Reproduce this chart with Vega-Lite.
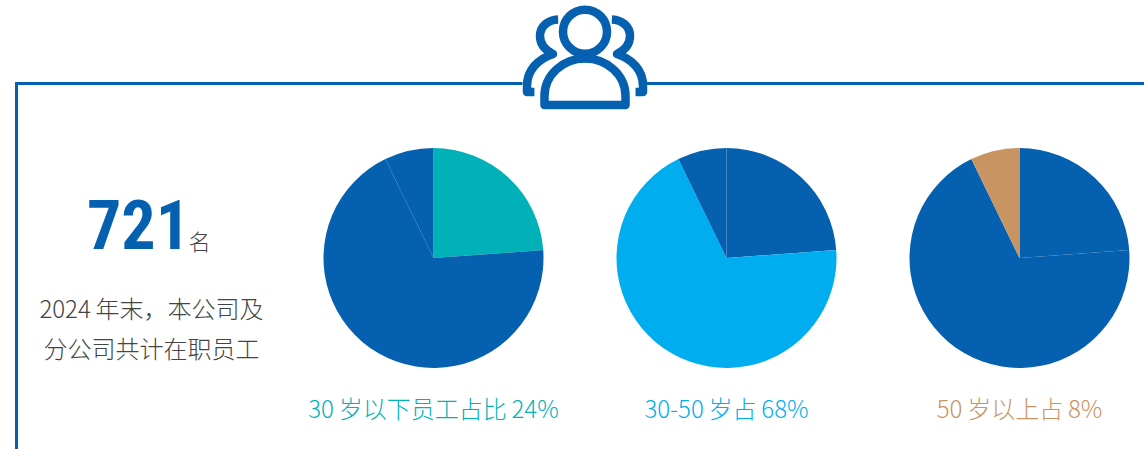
{
"$schema":"https://vega.github.io/schema/vega-lite/v6.json",
"width":1144,"height":449,"padding":0,"autosize":{"type":"none"},
"background":"white",
"config":{"view":{"stroke":null},"text":{"font":"Noto Sans CJK SC"}},
"layer":[
{"data":{"values":[{"part":"frame"}]},"mark":{"type":"rule","stroke":"#0560AF","strokeWidth":3},"encoding":{"x":{"value":15},"x2":{"value":522.5},"y":{"value":83.5}}},
{"data":{"values":[{"part":"frame"}]},"mark":{"type":"rule","stroke":"#0560AF","strokeWidth":3},"encoding":{"x":{"value":647},"x2":{"value":1144},"y":{"value":83.5}}},
{"data":{"values":[{"part":"frame"}]},"mark":{"type":"rule","stroke":"#0560AF","strokeWidth":3},"encoding":{"x":{"value":16.5},"y":{"value":82},"y2":{"value":449}}},
{"data":{"values":[{"part":"icon"}]},"mark":{"type":"point","filled":false,"opacity":1,"stroke":"#0560AF","strokeWidth":8.5,"strokeCap":"butt","strokeJoin":"round","size":16384,
"shape":"M -0.344 -0.411 A 0.344 0.344 0 1 1 0.344 -0.411 A 0.344 0.344 0 1 1 -0.344 -0.411 Z M -0.633 0.734 L 0.633 0.734 L 0.633 0.594 A 0.633 0.586 0 0 0 -0.633 0.594 Z M -0.42 -0.602 C -0.578 -0.594 -0.703 -0.5 -0.703 -0.344 C -0.703 -0.219 -0.625 -0.125 -0.5 -0.0625 C -0.734 0.016 -0.906 0.188 -0.906 0.4375 L -0.906 0.531 L -0.79 0.531 M 0.42 -0.602 C 0.578 -0.594 0.703 -0.5 0.703 -0.344 C 0.703 -0.219 0.625 -0.125 0.5 -0.0625 C 0.734 0.016 0.906 0.188 0.906 0.4375 L 0.906 0.531 L 0.79 0.531"},
"encoding":{"x":{"value":585},"y":{"value":58}}},
{"data":{"values":[
{"pie":"30岁以下","segment":"30岁以下","tone":"30岁以下","count":172},
{"pie":"30岁以下","segment":"30-50岁","tone":"其他","count":497},
{"pie":"30岁以下","segment":"50岁以上","tone":"其他","count":52},
{"pie":"30-50岁","segment":"30岁以下","tone":"其他","count":172},
{"pie":"30-50岁","segment":"30-50岁","tone":"30-50岁","count":497},
{"pie":"30-50岁","segment":"50岁以上","tone":"其他","count":52},
{"pie":"50岁以上","segment":"30岁以下","tone":"其他","count":172},
{"pie":"50岁以上","segment":"30-50岁","tone":"其他","count":497},
{"pie":"50岁以上","segment":"50岁以上","tone":"50岁以上","count":52}
]},
"transform":[{"stack":"count","groupby":["pie"],"as":["t0","t1"]}],
"mark":{"type":"arc","outerRadius":110},
"encoding":{
"x":{"field":"pie","type":"nominal","axis":null,"scale":{"type":"point","padding":0,"domain":["总数","30岁以下","30-50岁","50岁以上"],"range":[140.5,1019.5]}},
"y":{"value":258},
"theta":{"field":"t0","type":"quantitative","scale":{"domain":[0,721],"range":[0,6.2832]}},
"theta2":{"field":"t1"},
"color":{"field":"tone","type":"nominal","legend":null,"scale":{"domain":["30岁以下","30-50岁","50岁以上","其他"],"range":["#00B2B8","#00AEEF","#C79462","#0560AF"]}}
}},
{"data":{"values":[
{"pie":"30岁以下","tone":"30岁以下","label":"30\u2009岁以下员工占比\u200924%"},
{"pie":"30-50岁","tone":"30-50岁","label":"30-50\u2009岁占\u200968%"},
{"pie":"50岁以上","tone":"50岁以上","label":"50\u2009岁以上占\u20098%"}
]},
"mark":{"type":"text","fontSize":24,"fontWeight":300,"align":"center","baseline":"alphabetic"},
"encoding":{"x":{"field":"pie","type":"nominal"},"y":{"value":418},"text":{"field":"label"},"color":{"field":"tone","type":"nominal"}}},
{"data":{"values":[{"pie":"总数","value":"721"}]},
"mark":{"type":"text","font":"Roboto Condensed, Liberation Sans","fontSize":68,"fontWeight":"bold","align":"center","baseline":"alphabetic","color":"#0560AF","dx":-2},
"encoding":{"x":{"field":"pie","type":"nominal"},"y":{"value":249},"text":{"field":"value"}}},
{"data":{"values":[{"pie":"总数","unit":"名"}]},
"mark":{"type":"text","fontSize":22,"fontWeight":300,"align":"center","baseline":"alphabetic","color":"#444444","dx":59},
"encoding":{"x":{"field":"pie","type":"nominal"},"y":{"value":250},"text":{"field":"unit"}}},
{"data":{"values":[{"pie":"总数","line":"2024\u2009年末，本公司及"}]},
"mark":{"type":"text","fontSize":24,"fontWeight":300,"align":"center","baseline":"alphabetic","color":"#444444","dx":11},
"encoding":{"x":{"field":"pie","type":"nominal"},"y":{"value":318},"text":{"field":"line"}}},
{"data":{"values":[{"pie":"总数","line":"分公司共计在职员工"}]},
"mark":{"type":"text","fontSize":24,"fontWeight":300,"align":"center","baseline":"alphabetic","color":"#444444","dx":11},
"encoding":{"x":{"field":"pie","type":"nominal"},"y":{"value":358},"text":{"field":"line"}}}
],
"resolve":{"scale":{"color":"shared","x":"shared"}}
}
